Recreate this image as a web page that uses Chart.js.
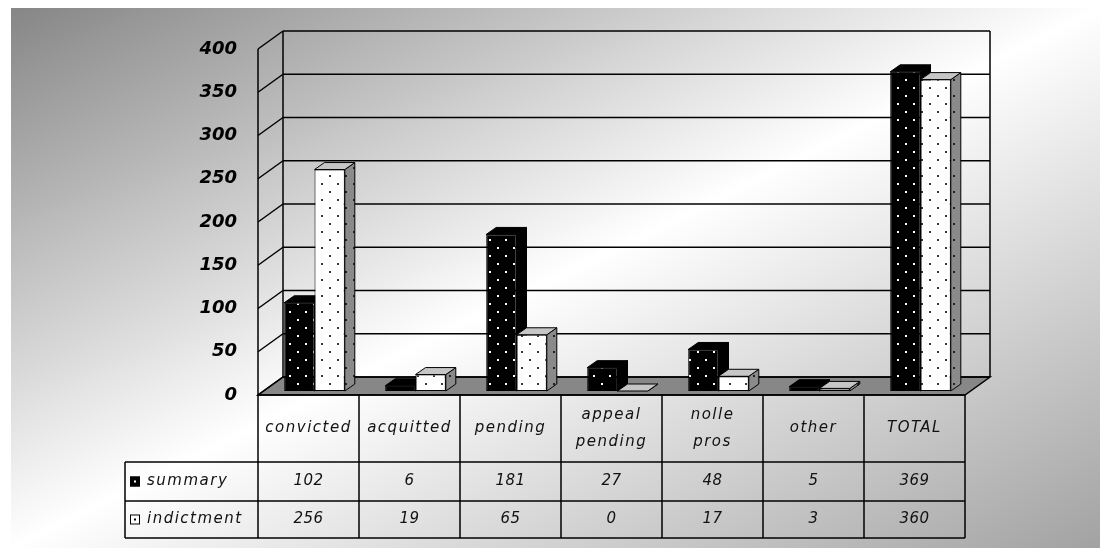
<!DOCTYPE html>
<html>
<head>
<meta charset="utf-8">
<title>Case outcomes</title>
<script src="https://cdn.jsdelivr.net/npm/chart.js@4.4.1/dist/chart.umd.min.js"></script>
<style>
  html, body { margin: 0; padding: 0; background: #fff; }
  #caseChart { display: block; }
</style>
</head>
<body>
<canvas id="caseChart" width="1104" height="551"></canvas>
<script>
const categories = ['convicted', 'acquitted', 'pending', ['appeal', 'pending'], ['nolle', 'pros'], 'other', 'TOTAL'];
const summaryCounts = [102, 6, 181, 27, 48, 5, 369];
const indictmentCounts = [256, 19, 65, 0, 17, 3, 360];
const seriesNames = ['summary', 'indictment'];
const valueTicks = [0, 50, 100, 150, 200, 250, 300, 350, 400];

// depth of the box walls and of each bar
const WALL_DX = 25, WALL_DY = -18;
const BAR_DX = 10, BAR_DY = -7;
const BAR_SHIFT_X = 6, BAR_SHIFT_Y = -4;

const canvas = document.getElementById('caseChart');
const ctx = canvas.getContext('2d');

function dotPattern(bg, dot) {
    const tile = document.createElement('canvas');
    tile.width = 16;
    tile.height = 16;
    const g = tile.getContext('2d');
    g.fillStyle = bg;
    g.fillRect(0, 0, 16, 16);
    g.fillStyle = dot;
    g.fillRect(3, 3, 2, 2);
    g.fillRect(11, 11, 2, 2);
    return ctx.createPattern(tile, 'repeat');
}

const blackDots = dotPattern('#000000', '#ffffff');
const whiteDots = dotPattern('#ffffff', '#3a3a3a');
const greyDots = dotPattern('#8a8a8a', '#222222');

const faceStyles = [
    { top: '#000000', side: '#000000' },
    { top: '#c6c6c6', side: greyDots }
];

function poly(c, pts, fill, lw) {
    c.beginPath();
    c.moveTo(pts[0][0], pts[0][1]);
    for (let i = 1; i < pts.length; i++) c.lineTo(pts[i][0], pts[i][1]);
    c.closePath();
    if (fill) {
        c.fillStyle = fill;
        c.fill();
    }
    c.lineWidth = lw || 1;
    c.strokeStyle = '#000';
    c.stroke();
}

function line(c, x1, y1, x2, y2) {
    c.beginPath();
    c.moveTo(x1, y1);
    c.lineTo(x2, y2);
    c.stroke();
}

const backdrop = {
    id: 'backdrop',
    beforeDraw(chart) {
        const c = chart.ctx;
        c.save();
        c.fillStyle = '#ffffff';
        c.fillRect(0, 0, chart.width, chart.height);
        const grad = c.createLinearGradient(340, -156, 770, 712);
        grad.addColorStop(0, '#868686');
        grad.addColorStop(0.5, '#ffffff');
        grad.addColorStop(1, '#a2a2a2');
        c.fillStyle = grad;
        c.fillRect(11, 8, 1089, 540);
        c.restore();
    }
};

const box3d = {
    id: 'box3d',
    beforeDatasetsDraw(chart) {
        const c = chart.ctx;
        const { left, right, top, bottom } = chart.chartArea;
        const y = chart.scales.y;
        c.save();
        c.strokeStyle = '#000';
        c.lineWidth = 1.5;

        // floor
        poly(c, [[left, bottom], [right, bottom], [right + WALL_DX, bottom + WALL_DY], [left + WALL_DX, bottom + WALL_DY]], '#878787', 1.5);

        // side wall ticks and back wall grid
        c.lineWidth = 1.5;
        valueTicks.forEach(v => {
            const py = y.getPixelForValue(v);
            line(c, left, py, left + WALL_DX, py + WALL_DY);
            line(c, left + WALL_DX, py + WALL_DY, right + WALL_DX, py + WALL_DY);
        });
        line(c, left + WALL_DX, top + WALL_DY, left + WALL_DX, bottom + WALL_DY);
        line(c, right + WALL_DX, top + WALL_DY, right + WALL_DX, bottom + WALL_DY);
        line(c, left, top, left, bottom);
        c.restore();

        // bars sit a little inside the box; their tops and sides go under the fronts
        c.save();
        c.translate(BAR_SHIFT_X, BAR_SHIFT_Y);
        chart.data.datasets.forEach((ds, di) => {
            const meta = chart.getDatasetMeta(di);
            const st = faceStyles[di];
            meta.data.forEach(bar => {
                const p = bar.getProps(['x', 'y', 'width', 'base'], true);
                const l = p.x - p.width / 2, r = p.x + p.width / 2;
                poly(c, [[r, p.y], [r + BAR_DX, p.y + BAR_DY], [r + BAR_DX, p.base + BAR_DY], [r, p.base]], st.side, 1);
                poly(c, [[l, p.y], [r, p.y], [r + BAR_DX, p.y + BAR_DY], [l + BAR_DX, p.y + BAR_DY]], st.top, 1);
            });
        });
    },
    afterDatasetsDraw(chart) {
        chart.ctx.restore();
    }
};

const dataTable = {
    id: 'dataTable',
    afterDraw(chart) {
        const c = chart.ctx;
        const x = chart.scales.x;
        const { left, right, bottom } = chart.chartArea;
        const colW = (right - left) / categories.length;
        const keyLeft = 125;
        const rows = [bottom, 462, 501, 538];
        const series = [summaryCounts, indictmentCounts];

        c.save();
        c.strokeStyle = '#000';
        c.lineWidth = 1.5;
        line(c, left, rows[0], right, rows[0]);
        for (let i = 1; i < rows.length; i++) line(c, keyLeft, rows[i], right, rows[i]);
        line(c, keyLeft, rows[1], keyLeft, rows[3]);
        for (let i = 0; i <= categories.length; i++) {
            const cx = left + i * colW;
            line(c, cx, rows[0], cx, rows[3]);
        }

        c.fillStyle = '#111';
        c.textAlign = 'center';
        c.textBaseline = 'middle';
        c.font = 'italic 15px "DejaVu Sans"';
        c.letterSpacing = '1.5px';
        categories.forEach((cat, i) => {
            const cx = x.getPixelForValue(i);
            const lines = Array.isArray(cat) ? cat : [cat];
            const mid = (rows[0] + rows[1]) / 2;
            lines.forEach((t, k) => {
                c.fillText(t, cx, mid + (k - (lines.length - 1) / 2) * 27);
            });
        });

        c.letterSpacing = '0.5px';
        series.forEach((vals, si) => {
            const mid = (rows[si + 1] + rows[si + 2]) / 2;
            vals.forEach((v, i) => c.fillText(String(v), x.getPixelForValue(i), mid));
        });

        // series keys
        c.textAlign = 'left';
        c.letterSpacing = '1.5px';
        seriesNames.forEach((name, si) => {
            const mid = (rows[si + 1] + rows[si + 2]) / 2;
            c.fillStyle = si === 0 ? '#000' : '#fff';
            c.fillRect(130, mid - 5, 10, 10);
            c.lineWidth = 1;
            c.strokeRect(130.5, mid - 4.5, 9, 9);
            c.fillStyle = si === 0 ? '#fff' : '#000';
            c.fillRect(134, mid - 1, 2, 2);
            c.fillStyle = '#111';
            c.fillText(name, 147, mid);
        });
        c.restore();
    }
};

new Chart(canvas, {
    type: 'bar',
    data: {
        labels: categories,
        datasets: [{
            label: seriesNames[0],
            data: summaryCounts,
            backgroundColor: blackDots,
            borderColor: '#000',
            borderWidth: 1,
            borderSkipped: false
        }, {
            label: seriesNames[1],
            data: indictmentCounts,
            backgroundColor: whiteDots,
            borderColor: '#000',
            borderWidth: 1,
            borderSkipped: false
        }]
    },
    options: {
        responsive: false,
        animation: false,
        categoryPercentage: 0.6,
        barPercentage: 1.0,
        layout: {
            padding: { top: 49, bottom: 156, right: 139, left: 0 }
        },
        plugins: {
            legend: { display: false },
            tooltip: { enabled: false }
        },
        scales: {
            x: { display: false },
            y: {
                min: 0,
                max: 400,
                afterBuildTicks: scale => {
                    scale.ticks = valueTicks.map(v => ({ value: v }));
                },
                afterFit: scale => {
                    scale.width = 258;
                },
                grid: { display: false },
                border: { display: false },
                ticks: {
                    padding: 13,
                    color: '#000',
                    font: { family: '"DejaVu Sans"', size: 18, style: 'italic', weight: 'bold' }
                }
            }
        }
    },
    plugins: [backdrop, box3d, dataTable]
});
</script>
</body>
</html>
